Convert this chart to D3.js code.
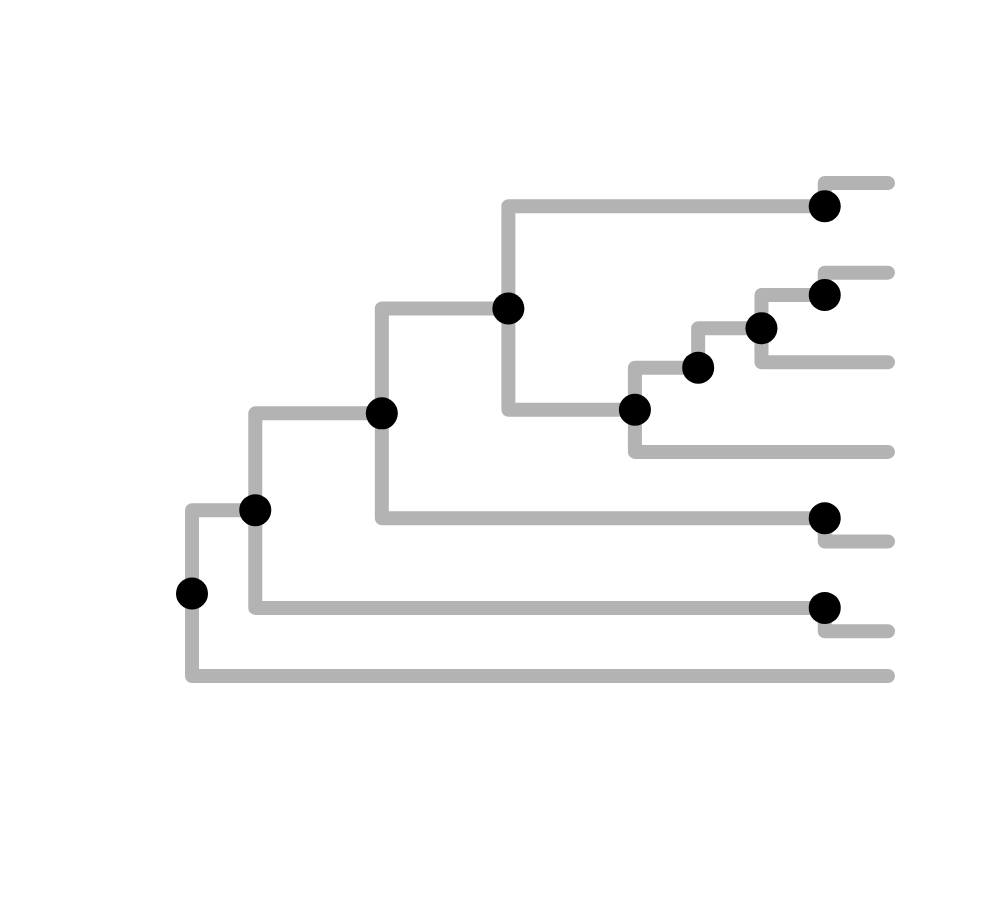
<!DOCTYPE html>
<html>
<head>
<meta charset="utf-8">
<script src="https://cdn.jsdelivr.net/npm/d3@7"></script>
<style>body{margin:0;background:#fff;}</style>
</head>
<body>
<div id="chart"></div>
<script>
// tree nodes: id, parent, depth (x units), row (y units)
var nodeIds   = ["r","a","b","c","n1","d","e","f","g","n2","n3","L1","L2","L3","L4","L5","L6","L7"];
var parents   = [null,"r","a","b","c","c","d","e","f","b","a","n1","g","f","d","n2","n3","r"];
var depths    = [0,1,3,5,10,7,8,9,10,10,10,11,11,11,11,11,11,11];
var rows      = [4.58,3.65,2.57,1.4,0.26,2.53,2.06,1.62,1.25,3.74,4.74,0,1,2,3,4,5,5.5];
var isLeaf    = [0,0,0,0,0,0,0,0,0,0,0,1,1,1,1,1,1,1];

var width = 1000, height = 900;
var x = d3.scaleLinear().domain([0, 11]).range([192, 888]);
var y = d3.scaleLinear().domain([0, 5.5]).range([183, 676]);

var nodes = nodeIds.map(function(id, i){
    return {id: id, parent: parents[i], depth: depths[i], row: rows[i], leaf: isLeaf[i]};
});
var byId = {};
nodes.forEach(function(n){ byId[n.id] = n; });

var svg = d3.select("#chart")
    .append("svg")
    .attr("width", width)
    .attr("height", height);

// elbow links
svg.append("g")
    .selectAll("path")
    .data(nodes.filter(function(n){ return n.parent; }))
    .enter()
    .append("path")
    .attr("d", function(n){
        var p = byId[n.parent];
        return "M" + x(p.depth) + "," + y(p.row) +
               "V" + y(n.row) + "H" + x(n.depth);
    })
    .attr("fill", "none")
    .attr("stroke", "#b3b3b3")
    .attr("stroke-width", 14)
    .attr("stroke-linecap", "round")
    .attr("stroke-linejoin", "round");

// internal node dots
svg.append("g")
    .selectAll("circle")
    .data(nodes.filter(function(n){ return !n.leaf; }))
    .enter()
    .append("circle")
    .attr("cx", function(n){ return x(n.depth); })
    .attr("cy", function(n){ return y(n.row); })
    .attr("r", 16)
    .attr("fill", "#000");
</script>
</body>
</html>
